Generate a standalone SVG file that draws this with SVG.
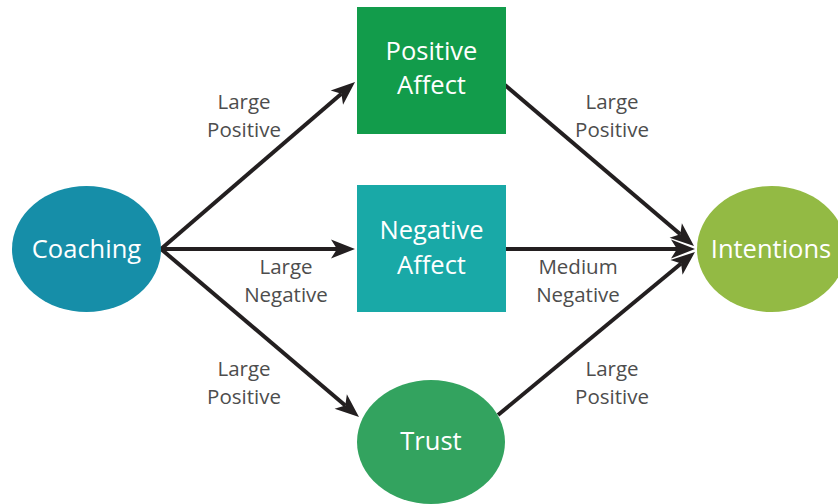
<svg xmlns="http://www.w3.org/2000/svg" width="838" height="504" viewBox="0 0 838 504">
<style>
.node-t{font-family:"Open Sans","Liberation Sans",sans-serif;font-size:25.5px;fill:#ffffff;text-anchor:middle}
.lbl{font-family:"Open Sans","Liberation Sans",sans-serif;font-size:20.5px;fill:#4d4d4d;text-anchor:middle}
.conn{stroke:#231f20;stroke-width:4;fill:none;marker-end:url(#arr)}
</style>
<defs>
<marker id="arr" markerUnits="userSpaceOnUse" markerWidth="40" markerHeight="40" refX="0" refY="0" orient="auto" overflow="visible">
<path d="M18,0 L-6,-9.5 L0,0 L-6,9.5 Z" fill="#231f20"/>
</marker>
</defs>
<rect width="838" height="504" fill="#ffffff"/>
<g id="connectors">
<line class="conn" x1="161" y1="249" x2="341.4" y2="93.7"/>
<line class="conn" x1="161" y1="249" x2="337" y2="249"/>
<line class="conn" x1="161" y1="249" x2="345.3" y2="405.4"/>
<line class="conn" x1="505" y1="85" x2="680.3" y2="234.3"/>
<line class="conn" x1="505" y1="249" x2="677" y2="249"/>
<line class="conn" x1="498" y1="415" x2="681.1" y2="263.5"/>
</g>
<g id="coaching">
<ellipse cx="86.5" cy="249" rx="74.5" ry="63" fill="#168ea8"/>
<text class="node-t" x="86.5" y="258">Coaching</text>
</g>
<g id="positive-affect">
<rect x="357" y="7" width="149" height="127" fill="#129c4b"/>
<text class="node-t" x="431.5" y="60">Positive</text>
<text class="node-t" x="431.5" y="94">Affect</text>
</g>
<g id="negative-affect">
<rect x="357" y="185" width="149" height="127" fill="#19a9a7"/>
<text class="node-t" x="431.5" y="239">Negative</text>
<text class="node-t" x="431.5" y="274">Affect</text>
</g>
<g id="trust">
<ellipse cx="431" cy="442" rx="74" ry="62" fill="#33a35f"/>
<text class="node-t" x="431" y="450">Trust</text>
</g>
<g id="intentions">
<ellipse cx="771.5" cy="249" rx="74.5" ry="63" fill="#93ba44"/>
<text class="node-t" x="771" y="258">Intentions</text>
</g>
<g id="labels">
<text class="lbl" x="244" y="109">Large</text>
<text class="lbl" x="244" y="137">Positive</text>
<text class="lbl" x="612" y="109">Large</text>
<text class="lbl" x="612" y="137">Positive</text>
<text class="lbl" x="286" y="274">Large</text>
<text class="lbl" x="286" y="302">Negative</text>
<text class="lbl" x="578" y="274">Medium</text>
<text class="lbl" x="578" y="302">Negative</text>
<text class="lbl" x="244" y="376">Large</text>
<text class="lbl" x="244" y="404">Positive</text>
<text class="lbl" x="612" y="376">Large</text>
<text class="lbl" x="612" y="404">Positive</text>
</g>
</svg>
